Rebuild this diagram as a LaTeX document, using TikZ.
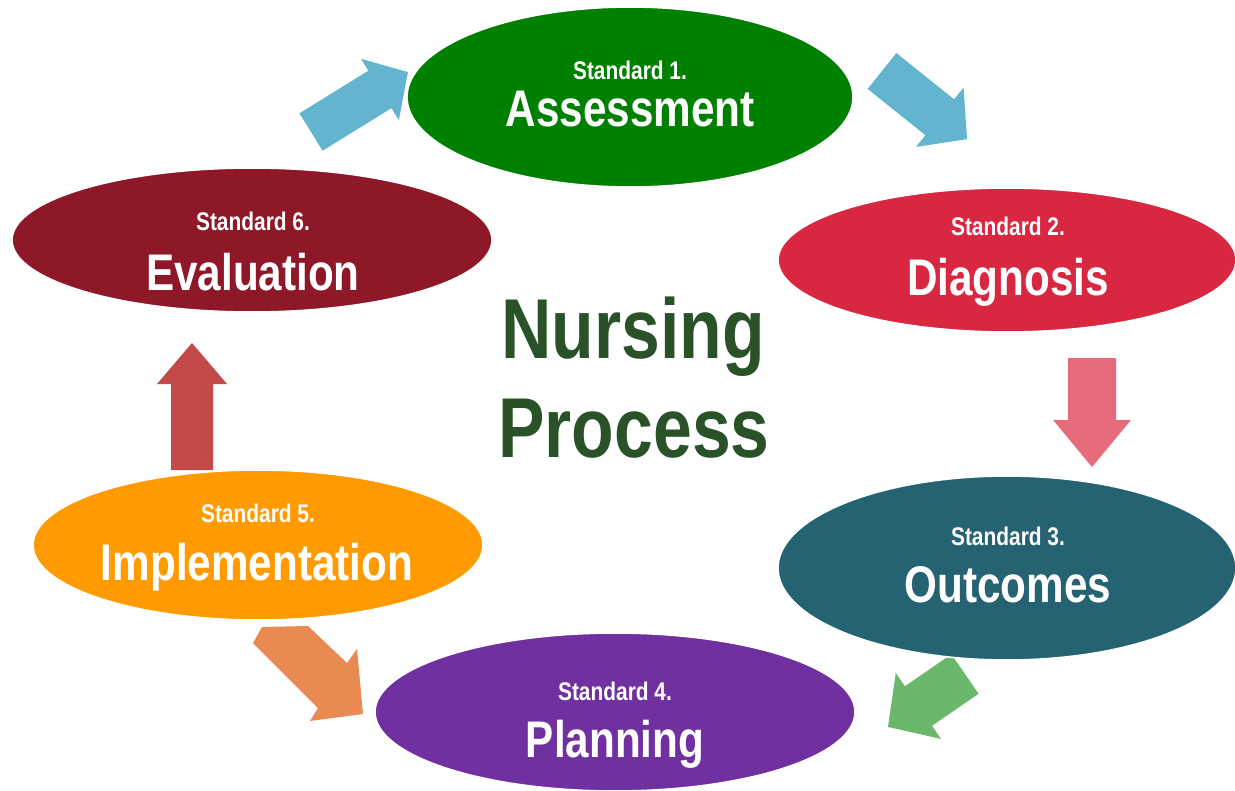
\documentclass[tikz,border=0pt]{standalone}
\usepackage{fontspec}
\usetikzlibrary{shapes.geometric}
\setmainfont{Liberation Sans}
\newfontfamily\narrowsans{Liberation Sans}[FakeStretch=0.82]
\definecolor{cA}{RGB}{0,128,0}
\definecolor{cD}{RGB}{217,39,65}
\definecolor{cO}{RGB}{37,99,115}
\definecolor{cP}{RGB}{112,48,160}
\definecolor{cI}{RGB}{255,155,0}
\definecolor{cE}{RGB}{142,23,40}
\definecolor{arBlue}{RGB}{99,181,207}
\definecolor{arPink}{RGB}{230,108,125}
\definecolor{arGreen}{RGB}{107,184,108}
\definecolor{arOrange}{RGB}{232,138,82}
\definecolor{arRed}{RGB}{194,74,72}
\definecolor{titleGreen}{RGB}{42,82,41}
\newcommand\blockarrow[8]{%
  \begin{scope}[shift={(#1,#2)},rotate=#3]
    \fill[#8] (0,-#5) -- ({#4-#7},-#5) -- ({#4-#7},-#6) -- (#4,0) -- ({#4-#7},#6) -- ({#4-#7},#5) -- (0,#5) -- cycle;
  \end{scope}}
\tikzset{
  stdoval/.style={ellipse, inner sep=0pt, draw=white, line width=0.8pt},
  smalllabel/.style={font=\narrowsans\bfseries\fontsize{12.75}{14}\selectfont, text=white, anchor=base, inner sep=0pt},
  biglabel/.style={font=\narrowsans\bfseries\fontsize{25.75}{30}\selectfont, text=white, anchor=base, inner sep=0pt},
  titlelabel/.style={font=\narrowsans\bfseries\fontsize{42.5}{50}\selectfont, text=titleGreen, anchor=base, inner sep=0pt}
}
\begin{document}
\begin{tikzpicture}[x=0.5pt,y=-0.5pt]
\useasboundingbox (0,0) rectangle (1235,791);
% block arrows
\blockarrow{311}{132}{31.7}{114}{22}{36}{33}{arBlue}
\blockarrow{882}{71}{-38.7}{109}{23}{38}{35}{arBlue}
\blockarrow{1092}{358}{-90}{109}{24}{39}{47}{arPink}
\blockarrow{965}{674}{-145.5}{93.5}{24}{40}{37}{arGreen}
\blockarrow{192}{470}{90}{127}{21}{35}{41}{arRed}
\fill[arOrange] (253,643) -- (262,627) -- (308,626) -- (347,663) -- (357,649) -- (363,714) -- (310,721) -- (318,708) -- cycle;
% ellipses
\node[stdoval, fill=cA, minimum width=223pt, minimum height=90pt] (assess) at (630,97) {};
\node[stdoval, fill=cD, minimum width=229pt, minimum height=72pt] (diag) at (1007,260) {};
\node[stdoval, fill=cO, minimum width=229pt, minimum height=92pt] (outc) at (1007,568) {};
\node[stdoval, fill=cP, minimum width=240pt, minimum height=79pt] (plan) at (615,712) {};
\node[stdoval, fill=cI, minimum width=225pt, minimum height=75pt] (impl) at (258,545) {};
\node[stdoval, fill=cE, minimum width=240pt, minimum height=72pt] (eval) at (252,240) {};
% labels
\node[smalllabel] (s1) at (630,80) {Standard 1.};
\node[biglabel] (l1) at (630,127) {Assessment};
\node[smalllabel] (s2) at (1008,235) {Standard 2.};
\node[biglabel] (l2) at (1008,295) {Diagnosis};
\node[smalllabel] (s3) at (1008,545) {Standard 3.};
\node[biglabel] (l3) at (1008,602) {Outcomes};
\node[smalllabel] (s4) at (615,700) {Standard 4.};
\node[biglabel] (l4) at (615,757) {Planning};
\node[smalllabel] (s5) at (258,522) {Standard 5.};
\node[biglabel] (l5) at (257,580) {Implementation};
\node[smalllabel] (s6) at (253,230) {Standard 6.};
\node[biglabel] (l6) at (253,290) {Evaluation};
% title
\node[titlelabel] (t1) at (633,358) {Nursing};
\node[titlelabel] (t2) at (634,457) {Process};
\end{tikzpicture}
\end{document}
